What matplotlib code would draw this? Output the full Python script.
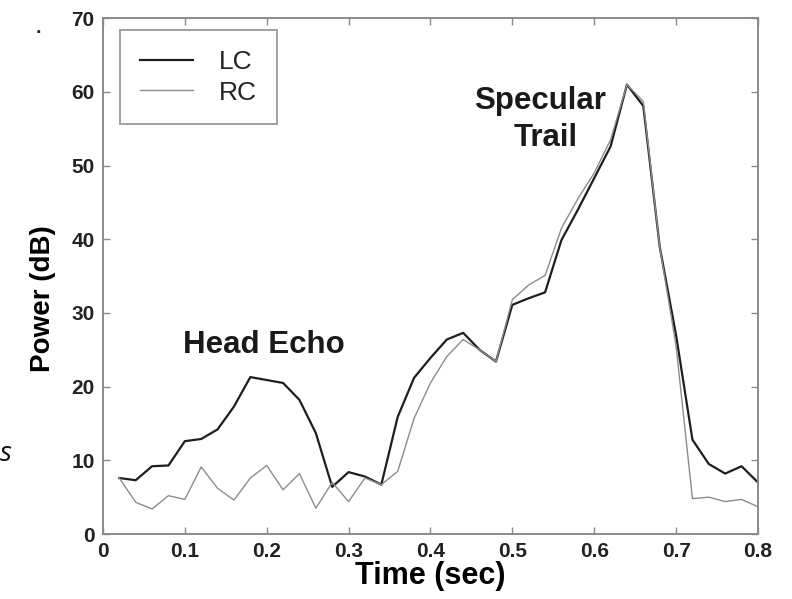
import numpy as np
import matplotlib
matplotlib.use("Agg")
import matplotlib.pyplot as plt

# sample times (s) and received power for the two polarisations
time_s = [0.02, 0.04, 0.06, 0.08, 0.10, 0.12, 0.14, 0.16, 0.18, 0.20,
          0.22, 0.24, 0.26, 0.28, 0.30, 0.32, 0.34, 0.36, 0.38, 0.40,
          0.42, 0.44, 0.46, 0.48, 0.50, 0.52, 0.54, 0.56, 0.58, 0.60,
          0.62, 0.64, 0.66, 0.68, 0.70, 0.72, 0.74, 0.76, 0.78, 0.80]
lc_db = [7.6, 7.3, 9.2, 9.3, 12.6, 12.9, 14.2, 17.3, 21.3, 20.9,
         20.5, 18.2, 13.7, 6.4, 8.4, 7.8, 6.7, 15.9, 21.2, 23.9,
         26.4, 27.3, 25.0, 23.4, 31.1, 32.0, 32.8, 39.9, 44.0, 48.3,
         52.6, 61.0, 58.1, 39.0, 27.0, 12.8, 9.5, 8.2, 9.2, 7.0]
rc_db = [7.6, 4.3, 3.4, 5.2, 4.7, 9.1, 6.2, 4.6, 7.6, 9.3,
         6.0, 8.2, 3.5, 7.0, 4.4, 7.6, 6.7, 8.5, 15.7, 20.5,
         24.1, 26.4, 25.0, 23.4, 31.8, 33.8, 35.1, 41.5, 45.5, 49.0,
         53.5, 61.0, 58.7, 39.0, 25.5, 4.8, 5.0, 4.4, 4.7, 3.7]

xticks = [0, 0.1, 0.2, 0.3, 0.4, 0.5, 0.6, 0.7, 0.8]
xtick_labels = ["0", "0.1", "0.2", "0.3", "0.4", "0.5", "0.6", "0.7", "0.8"]
yticks = [0, 10, 20, 30, 40, 50, 60, 70]

plt.rcParams['font.family'] = ['Liberation Sans', 'DejaVu Sans']

fig = plt.figure(figsize=(7.92, 5.99), dpi=100)
ax = fig.add_axes([0.130, 0.1085, 0.827, 0.861])

ax.plot(time_s, lc_db, color='#1e1e1e', lw=1.6, label='LC')
ax.plot(time_s, rc_db, color='#8c8c8c', lw=1.0, label='RC')

ax.set_xlim(0, 0.8)
ax.set_ylim(0, 70)
ax.set_xticks(xticks)
ax.set_xticklabels(xtick_labels)
ax.set_yticks(yticks)

# matlab-ish frame: grey box, inward ticks on every side
for sp in ax.spines.values():
    sp.set_color('#8a8a8a')
    sp.set_linewidth(1.4)
ax.tick_params(direction='in', length=5, width=1, color='#8a8a8a',
               top=True, right=True, labelsize=15, labelcolor='#222222', pad=6)
for lab in ax.get_xticklabels() + ax.get_yticklabels():
    lab.set_fontweight('bold')

ax.set_xlabel('Time (sec)', fontsize=22, fontweight='bold', labelpad=0)
ax.set_ylabel('Power (dB)', fontsize=20, fontweight='bold')
ax.yaxis.set_label_coords(-0.072, 0.457)

ax.text(0.197, 25.7, 'Head Echo', fontsize=22.5, fontweight='bold',
        ha='center', va='center', color='#1a1a1a')
ax.text(0.534, 58.8, 'Specular', fontsize=22.5, fontweight='bold',
        ha='center', va='center', color='#1a1a1a')
ax.text(0.541, 53.8, 'Trail', fontsize=22.5, fontweight='bold',
        ha='center', va='center', color='#1a1a1a')

leg = ax.legend(loc='upper left', fontsize=19, frameon=True, fancybox=False,
                handlelength=2.0, handletextpad=1.0, borderpad=0.75,
                labelspacing=0.25, borderaxespad=0,
                bbox_to_anchor=(0.026, 0.977))
leg.get_frame().set_edgecolor('#8a8a8a')
leg.get_frame().set_linewidth(1.4)
for t in leg.get_texts():
    t.set_color('#222222')

# bits of surrounding page text
fig.text(0.045, 0.945, '.', fontsize=14, fontweight='bold', color='#222222')
fig.text(0.0, 0.23, 's', fontsize=20, style='italic', color='#111111',
         family=['Open Sans', 'DejaVu Sans'])

fig.savefig('out.png', dpi=100)
